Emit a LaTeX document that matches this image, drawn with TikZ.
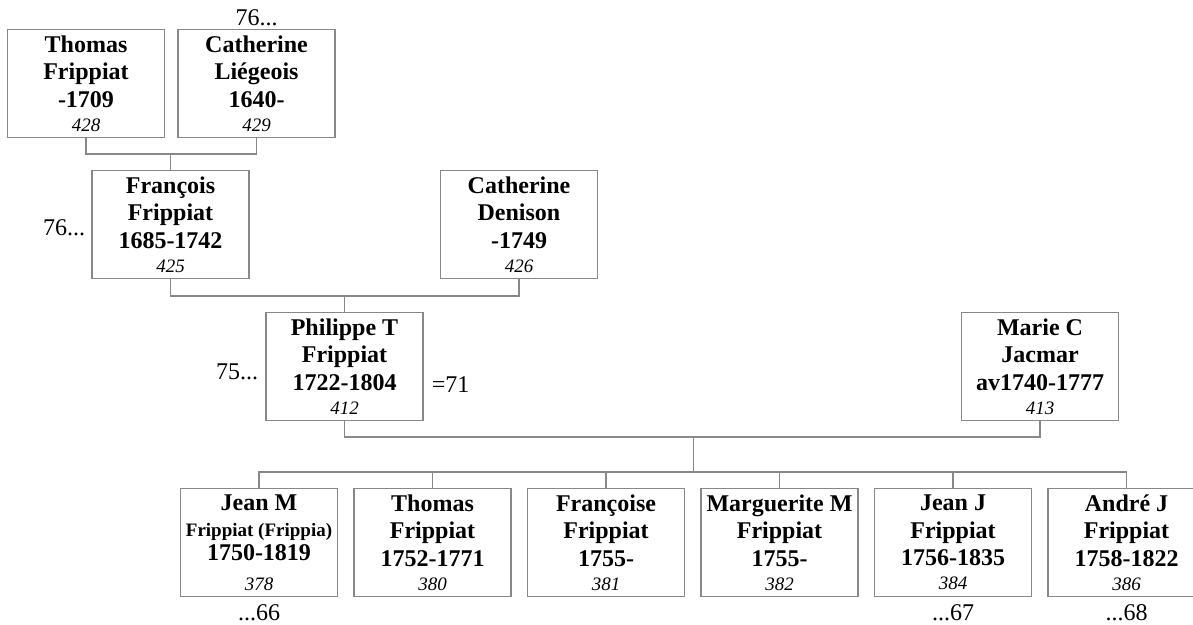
\documentclass[tikz,border=0pt]{standalone}
\usepackage{fontspec}
\setmainfont{Liberation Serif}
\usetikzlibrary{positioning}
\definecolor{boxgray}{RGB}{136,136,136}

\begin{document}
\begin{tikzpicture}[x=1pt, y=-1pt,
  person/.style={draw=boxgray, line width=1.5pt, fill=white, minimum width=157pt,
    minimum height=108pt, inner sep=0pt, align=center,
    font=\fontsize{24}{27.5}\selectfont\bfseries},
  link/.style={draw=boxgray, line width=1.5pt},
  lbl/.style={inner sep=0pt, font=\fontsize{24}{27}\selectfont}]
\newcommand{\refnum}[1]{{\fontsize{19}{22}\selectfont\mdseries\itshape #1}}
\useasboundingbox (0,0) rectangle (1193,624);
\clip (0,0) rectangle (1193,624);

% Abuelos
\node[person] (thomas) at (86,83.5) {Thomas\\Frippiat\\-1709\\[-3.5pt]\refnum{428}};
\node[person, right=12pt of thomas] (catherineL) {Catherine\\Liégeois\\1640-\\[-3.5pt]\refnum{429}};
\node[lbl, above=3pt of catherineL] (upCL) {76...};

% Padres
\node[person] (francois) at (170.5,224.5) {François\\Frippiat\\1685-1742\\[-3.5pt]\refnum{425}};
\node[person, right=190pt of francois] (denison) {Catherine\\Denison\\-1749\\[-3.5pt]\refnum{426}};
\node[lbl, left=6pt of francois, yshift=-3.5pt] (upF) {76...};

% Pareja
\node[person] (philippe) at (344.5,366.5) {Philippe T\\Frippiat\\1722-1804\\[-3.5pt]\refnum{412}};
\node[person, right=537pt of philippe] (marie) {Marie C\\Jacmar\\av1740-1777\\[-3.5pt]\refnum{413}};
\node[lbl, left=7pt of philippe, yshift=-5.5pt] (upP) {75...};
\node[lbl, right=8pt of philippe, yshift=-18.5pt] (marr) {=71};

% Hijos
\node[person] (jeanM) at (259,542.5) {Jean M\\[-1.5pt]{\fontsize{19}{22}\selectfont Frippiat (Frippia)}\\[-3.5pt]1750-1819\\[2.5pt]\refnum{378}};
\node[person, right=15pt of jeanM] (thomasF) {Thomas\\Frippiat\\1752-1771\\[-3.5pt]\refnum{380}};
\node[person, right=15pt of thomasF] (francoise) {Françoise\\Frippiat\\1755-\\[-3.5pt]\refnum{381}};
\node[person, right=15pt of francoise] (margueriteM) {Marguerite M\\Frippiat\\1755-\\[-3.5pt]\refnum{382}};
\node[person, right=15pt of margueriteM] (jeanJ) {Jean J\\Frippiat\\1756-1835\\[-3.5pt]\refnum{384}};
\node[person, right=15pt of jeanJ] (andreJ) {André J\\Frippiat\\1758-1822\\[-3.5pt]\refnum{386}};
\node[lbl, below=7pt of jeanM] (downJM) {...66};
\node[lbl, below=7pt of jeanJ] (downJJ) {...67};
\node[lbl, below=7pt of andreJ] (downAJ) {...68};

% Lineas
\coordinate (tc) at (170.5,154);
\coordinate (fd) at (344.5,296);
\coordinate (pm) at (693.5,437);
\coordinate (kids) at (693.5,472);
\draw[link] (thomas.south) |- (tc) -| (catherineL.south);
\draw[link] (tc) -- (francois.north);
\draw[link] (francois.south) |- (fd) -| (denison.south);
\draw[link] (fd) -- (philippe.north);
\draw[link] (philippe.south) |- (pm) -| (marie.south);
\draw[link] (pm) -- (kids);
\draw[link] (jeanM.north) |- (kids) -| (andreJ.north);
\draw[link] (thomasF.north) -- (thomasF.north |- kids);
\draw[link] (francoise.north) -- (francoise.north |- kids);
\draw[link] (margueriteM.north) -- (margueriteM.north |- kids);
\draw[link] (jeanJ.north) -- (jeanJ.north |- kids);
\end{tikzpicture}
\end{document}
